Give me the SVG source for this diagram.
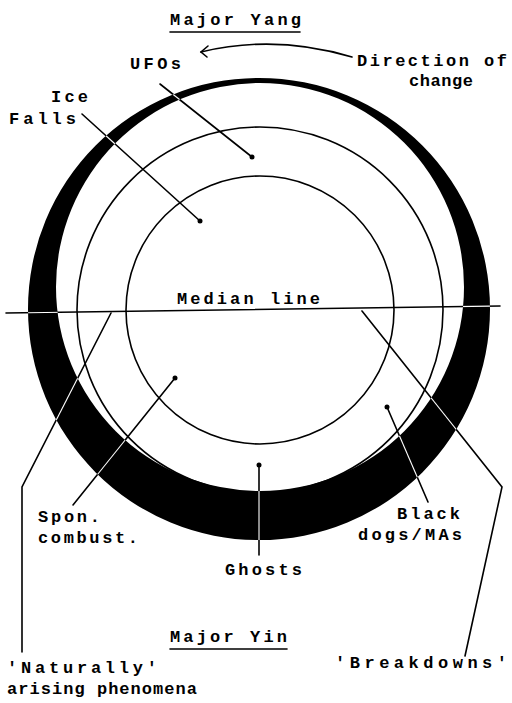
<svg xmlns="http://www.w3.org/2000/svg" width="512" height="703" viewBox="0 0 512 703">
<style>
text{font-family:"Liberation Mono","DejaVu Sans Mono",monospace;font-size:17px;fill:#000;font-weight:bold}
.ln{stroke:#000;stroke-width:1.6;fill:none;stroke-linecap:round}
.wl{stroke:#fff;stroke-width:1.1;fill:none}
.ring{fill:#000;fill-rule:evenodd}
.circ{fill:none;stroke:#000;stroke-width:1.6}
.dot{fill:#000}
</style>
<defs>
<clipPath id="ringclip"><path d="M28,309 A231,231 0 1,0 490,309 A231,231 0 1,0 28,309 Z M56,287 A204,204 0 1,0 464,287 A204,204 0 1,0 56,287 Z" clip-rule="evenodd"/></clipPath>
</defs>
<rect width="512" height="703" fill="#fff"/>
<g id="ring">
<path class="ring" d="M28,309 A231,231 0 1,0 490,309 A231,231 0 1,0 28,309 Z M56,287 A204,204 0 1,0 464,287 A204,204 0 1,0 56,287 Z"/>
</g>
<g id="circles">
<circle class="circ" cx="260" cy="310" r="183"/>
<circle class="circ" cx="260" cy="310" r="134"/>
</g>
<g id="connectors">
<path class="ln" d="M6,313 L500,306"/>
<path class="ln" d="M160,84 L252,157"/>
<path class="ln" d="M82,114 L200,221"/>
<path class="ln" d="M111,313 L22,487 L22,652" />
<path class="ln" d="M362,311 L502,487 L465,656"/>
<path class="ln" d="M175,378 L73,505"/>
<path class="ln" d="M259,465 L259,555"/>
<path class="ln" d="M387,407 L428,502"/>
<path class="ln" d="M352,57 Q275,34 201,52"/>
<path class="ln" d="M208,46 L201,52 L207,57"/>
<g clip-path="url(#ringclip)">
<path class="wl" d="M6,313 L500,306"/>
<path class="wl" d="M160,84 L252,157"/>
<path class="wl" d="M82,114 L200,221"/>
<path class="wl" d="M111,313 L22,487"/>
<path class="wl" d="M362,311 L502,487"/>
<path class="wl" d="M175,378 L73,505"/>
<path class="wl" d="M259,465 L259,555"/>
<path class="wl" d="M387,407 L428,502"/>
</g>
<circle class="dot" cx="252" cy="157" r="2.5"/>
<circle class="dot" cx="200" cy="221" r="2.5"/>
<circle class="dot" cx="175" cy="378" r="2.5"/>
<circle class="dot" cx="259" cy="465" r="2.5"/>
<circle class="dot" cx="387" cy="407" r="2.5"/>
</g>
<g id="title-yang">
<text x="170" y="25" textLength="131" lengthAdjust="spacing">Major Yang</text>
<path class="ln" d="M170,32 L300,32"/>
</g>
<g id="direction"><text x="357" y="66" textLength="150" lengthAdjust="spacing">Direction of</text>
<text x="409" y="86" textLength="64" lengthAdjust="spacing">change</text></g>
<g id="ufos"><text x="130" y="69" textLength="51" lengthAdjust="spacing">UFOs</text></g>
<g id="icefalls"><text x="51" y="102" textLength="37" lengthAdjust="spacing">Ice</text>
<text x="9" y="124" textLength="67" lengthAdjust="spacing">Falls</text></g>
<g id="median"><text x="177" y="304" textLength="143" lengthAdjust="spacing">Median line</text></g>
<g id="spon"><text x="38" y="522" textLength="62" lengthAdjust="spacing">Spon.</text>
<text x="38" y="543" textLength="100" lengthAdjust="spacing">combust.</text></g>
<g id="blackdogs"><text x="397" y="519" textLength="63" lengthAdjust="spacing">Black</text>
<text x="358" y="540" textLength="104" lengthAdjust="spacing">dogs/MAs</text></g>
<g id="ghosts"><text x="225" y="575" textLength="77" lengthAdjust="spacing">Ghosts</text></g>
<g id="title-yin"><text x="170" y="642" textLength="117" lengthAdjust="spacing">Major Yin</text>
<path class="ln" d="M170,649 L287,649"/></g>
<g id="naturally"><text x="7" y="673" textLength="150" lengthAdjust="spacing">'Naturally'</text>
<text x="7" y="694" textLength="190" lengthAdjust="spacing">arising phenomena</text></g>
<g id="breakdowns"><text x="335" y="668" textLength="172" lengthAdjust="spacing">'Breakdowns'</text></g>
</svg>
